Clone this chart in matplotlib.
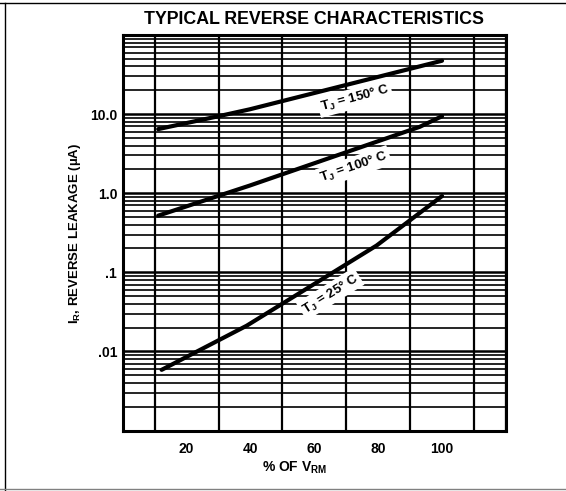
import numpy as np
import matplotlib
matplotlib.use('Agg')
import matplotlib.pyplot as plt
from matplotlib.lines import Line2D

plt.rcParams['font.family'] = ['Liberation Sans', 'DejaVu Sans']
plt.rcParams['font.weight'] = 'bold'
plt.rcParams['mathtext.default'] = 'regular'

# Curves (% of VRM, leakage in uA)
x_150 = [11.1, 30.5, 39.8, 100]
y_150 = [6.46, 9.5, 11.5, 47.3]

x_100 = [11.1, 39.8, 93, 100]
y_100 = [0.52, 1.25, 6.9, 9.4]

x_25 = [12.2, 38.8, 79.5, 100]
y_25 = [0.00585, 0.0211, 0.218, 0.92]

x_ticks = [20, 40, 60, 80, 100]
y_ticks = [0.01, 0.1, 1, 10]
y_ticklabels = ['.01', '.1', '1.0', '10.0']

fig = plt.figure(figsize=(5.66, 4.91), dpi=100)
ax = fig.add_axes([0.2168, 0.1232, 0.677, 0.8055])

ax.set_yscale('log')
ax.set_xlim(0, 120)
ax.set_ylim(0.001, 100)

# grid like the printed log paper
ax.set_xticks(np.arange(0, 121, 10), minor=True)
ax.grid(True, which='minor', axis='x', color='black', lw=1.6)
ax.grid(True, which='major', axis='y', color='black', lw=1.8)
ax.grid(True, which='minor', axis='y', color='black', lw=1.2)
ax.yaxis.set_minor_locator(matplotlib.ticker.LogLocator(base=10, subs=np.arange(2, 10)))
ax.yaxis.set_minor_formatter(matplotlib.ticker.NullFormatter())

ax.set_xticks(x_ticks)
ax.set_xticklabels([str(v) for v in x_ticks])
ax.set_yticks(y_ticks)
ax.set_yticklabels(y_ticklabels)
ax.tick_params(which='both', length=0)
ax.tick_params(axis='x', pad=8, labelsize=10)
ax.tick_params(axis='y', pad=4, labelsize=10)
for s in ax.spines.values():
    s.set_linewidth(2.2)

ax.plot(x_150, y_150, color='black', lw=3, solid_capstyle='round', zorder=5)
ax.plot(x_100, y_100, color='black', lw=3, solid_capstyle='round', zorder=5)
ax.plot(x_25, y_25, color='black', lw=3, solid_capstyle='round', zorder=5)

box = dict(facecolor='white', edgecolor='none', pad=1.5)
ax.text(72.7, 15.8, 'T$_J$ = 150° C', rotation=15, ha='center', va='center',
        fontsize=9.5, bbox=box, zorder=6)
ax.text(72.4, 2.15, 'T$_J$ = 100° C', rotation=19, ha='center', va='center',
        fontsize=9.5, bbox=box, zorder=6)
ax.text(65, 0.0533, 'T$_J$ = 25° C', rotation=32, ha='center', va='center',
        fontsize=9.5, bbox=box, zorder=6)

fig.text(314 / 566, 1 - 19 / 491, 'TYPICAL REVERSE CHARACTERISTICS',
         ha='center', va='center', fontsize=12.8)
fig.text(75 / 566, 1 - 233 / 491, 'I$_R$, REVERSE LEAKAGE (µA)', rotation=90,
         ha='center', va='center', fontsize=9.5)
fig.text(295 / 566, 1 - 468 / 491, '% OF V$_{RM}$', ha='center', va='center',
         fontsize=10)

# page frame from the scan
fig.add_artist(Line2D([0, 1], [1 - 3 / 491, 1 - 3 / 491], color='black', lw=1))
fig.add_artist(Line2D([5 / 566, 5 / 566], [0, 1 - 3 / 491], color='black', lw=1))
fig.add_artist(Line2D([0, 1], [2 / 491, 2 / 491], color='gray', lw=1))

fig.savefig('out.png', dpi=100)
